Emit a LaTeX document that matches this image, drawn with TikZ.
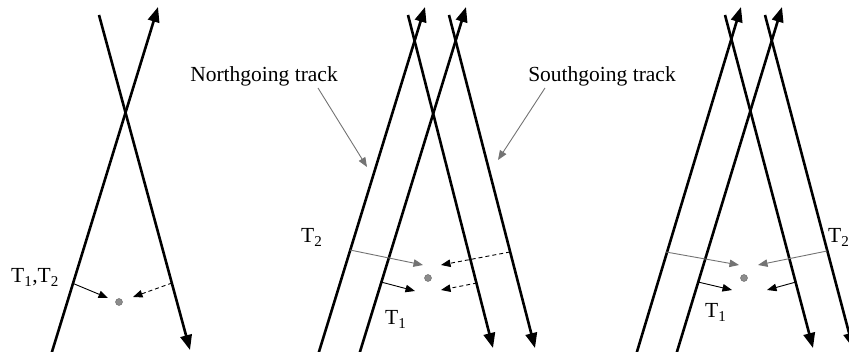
\documentclass[tikz,border=0pt]{standalone}
\usepackage{fontspec}
\setmainfont{Liberation Serif}
\usetikzlibrary{arrows.meta}
\begin{document}
\begin{tikzpicture}[x=1pt,y=-1pt,
  track/.style={line width=2.6pt,-{Triangle[length=15pt,width=11.5pt]}},
  thin/.style={line width=0.9pt,-{Triangle[length=9.5pt,width=7.5pt]}},
  graythin/.style={thin,draw=black!55},
  dashthin/.style={thin,dash pattern=on 4pt off 3pt},
  dotmark/.style={circle,inner sep=0pt,minimum size=7pt,fill=black!45,draw=black!60,line width=0.4pt},
  lbl/.style={font=\fontsize{21.5}{24}\selectfont,inner sep=0pt},
]
\useasboundingbox (0,0) rectangle (849,352);
\clip (0,0) rectangle (849,352);
% ---------- panel 1 ----------
\coordinate (n1b) at (51,355);
\coordinate (n1t) at (158,7);
\coordinate (s1t) at (99,15);
\coordinate (s1b) at (190,350);
\draw[track] (n1b) -- (n1t);
\draw[track] (s1t) -- (s1b);
\node[dotmark] (d1) at (119,302) {};
\coordinate (p1a) at (72,283);
\coordinate (q1a) at (108,298);
\coordinate (p1b) at (172,283);
\coordinate (q1b) at (133,297);
\draw[thin] (p1a) -- (q1a);
\draw[dashthin] (p1b) -- (q1b);
\node[lbl,anchor=base west] (t12) at (11,283) {T\textsubscript{1},T\textsubscript{2}};
% ---------- panel 2 ----------
\coordinate (a2b) at (318,355);
\coordinate (a2t) at (425,7);
\coordinate (b2b) at (359,355);
\coordinate (b2t) at (466,7);
\coordinate (c2t) at (408,15);
\coordinate (c2b) at (493,348);
\coordinate (e2t) at (449,15);
\coordinate (e2b) at (535,348);
\draw[track] (a2b) -- (a2t);
\draw[track] (b2b) -- (b2t);
\draw[track] (c2t) -- (c2b);
\draw[track] (e2t) -- (e2b);
\node[dotmark] (d2) at (428,278) {};
\coordinate (p2a) at (350,250);
\coordinate (q2a) at (423,265);
\coordinate (p2b) at (381,282);
\coordinate (q2b) at (415,291);
\coordinate (p2c) at (510,252);
\coordinate (q2c) at (441,265);
\coordinate (p2d) at (477,283);
\coordinate (q2d) at (441,290);
\draw[graythin] (p2a) -- (q2a);
\draw[thin] (p2b) -- (q2b);
\draw[dashthin] (p2c) -- (q2c);
\draw[dashthin] (p2d) -- (q2d);
\node[lbl,anchor=base west] (t2b) at (301,243) {T\textsubscript{2}};
\node[lbl,anchor=base west] (t1b) at (385,325) {T\textsubscript{1}};
% labels
\node[lbl,anchor=base] (north) at (264,82) {Northgoing track};
\node[lbl,anchor=base] (south) at (602,82) {Southgoing track};
\coordinate (np) at (318,88);
\coordinate (nq) at (367,167);
\coordinate (sp) at (545,88);
\coordinate (sq) at (498,160);
\draw[graythin] (np) -- (nq);
\draw[graythin] (sp) -- (sq);
% ---------- panel 3 ----------
\coordinate (e3b) at (636,355);
\coordinate (e3t) at (741,7);
\coordinate (f3b) at (676,355);
\coordinate (f3t) at (782,7);
\coordinate (g3t) at (725,15);
\coordinate (g3b) at (813,348);
\coordinate (h3t) at (765,15);
\coordinate (h3b) at (853,348);
\draw[track] (e3b) -- (e3t);
\draw[track] (f3b) -- (f3t);
\draw[track] (g3t) -- (g3b);
\draw[track] (h3t) -- (h3b);
\node[dotmark] (d3) at (744,278) {};
\coordinate (p3a) at (666,252);
\coordinate (q3a) at (739,265);
\coordinate (p3b) at (698,282);
\coordinate (q3b) at (732,290);
\coordinate (p3c) at (827,251);
\coordinate (q3c) at (758,265);
\coordinate (p3d) at (796,282);
\coordinate (q3d) at (767,290);
\draw[graythin] (p3a) -- (q3a);
\draw[thin] (p3b) -- (q3b);
\draw[graythin] (p3c) -- (q3c);
\draw[thin] (p3d) -- (q3d);
\node[lbl,anchor=base west] (t2c) at (828,243) {T\textsubscript{2}};
\node[lbl,anchor=base west] (t1c) at (705,318) {T\textsubscript{1}};
\end{tikzpicture}
\end{document}
